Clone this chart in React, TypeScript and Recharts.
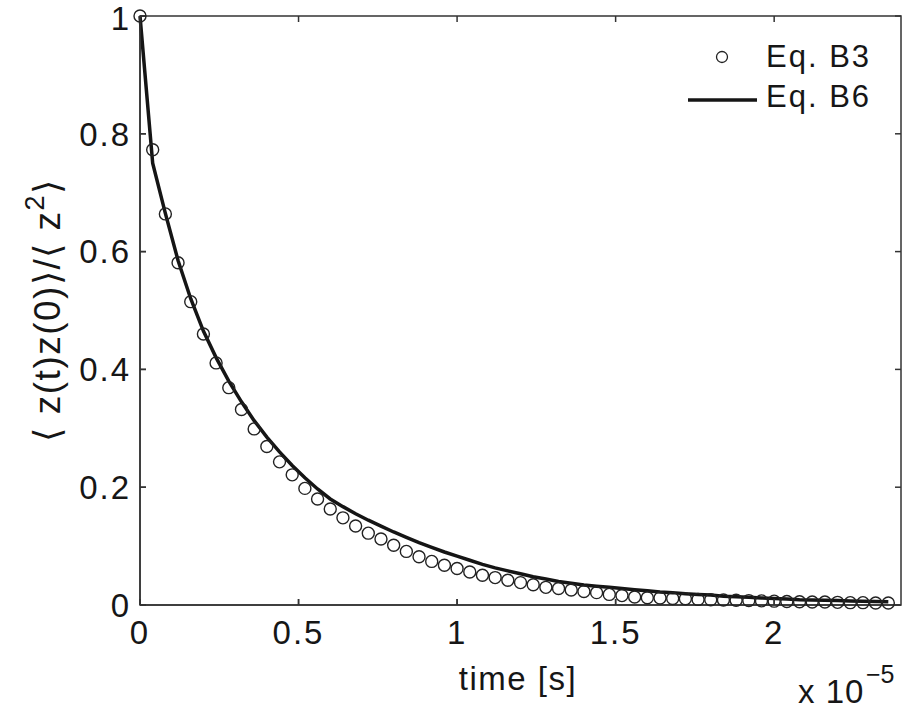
import React from "react";
import { ComposedChart, Line, XAxis, YAxis } from "recharts";

// time in units of 1e-5 s
const timeValues = [
  0, 0.04, 0.08, 0.12, 0.16, 0.2, 0.24, 0.28, 0.32, 0.36,
  0.4, 0.44, 0.48, 0.52, 0.56, 0.6, 0.64, 0.68, 0.72, 0.76,
  0.8, 0.84, 0.88, 0.92, 0.96, 1.0, 1.04, 1.08, 1.12, 1.16,
  1.2, 1.24, 1.28, 1.32, 1.36, 1.4, 1.44, 1.48, 1.52, 1.56,
  1.6, 1.64, 1.68, 1.72, 1.76, 1.8, 1.84, 1.88, 1.92, 1.96,
  2.0, 2.04, 2.08, 2.12, 2.16, 2.2, 2.24, 2.28, 2.32, 2.36,
];

// Eq. B3 (circles)
const eqB3Values = [
  1.0, 0.773, 0.664, 0.581, 0.515, 0.46, 0.411, 0.369, 0.332, 0.299,
  0.269, 0.243, 0.221, 0.198, 0.18, 0.163, 0.148, 0.134, 0.122, 0.112,
  0.1015, 0.091, 0.082, 0.074, 0.0675, 0.062, 0.056, 0.0505, 0.0465, 0.042,
  0.038, 0.0345, 0.03, 0.028, 0.0255, 0.023, 0.021, 0.018, 0.016, 0.0136,
  0.0124, 0.012, 0.011, 0.0105, 0.0095, 0.009, 0.0085, 0.008, 0.0075, 0.007,
  0.0065, 0.006, 0.0055, 0.005, 0.005, 0.0045, 0.004, 0.004, 0.0035, 0.0035,
];

// Eq. B6 (solid line)
const eqB6Values = [
  1.0, 0.75, 0.665, 0.585, 0.52, 0.465, 0.42, 0.38, 0.345, 0.313,
  0.285, 0.26, 0.237, 0.216, 0.197, 0.18, 0.167, 0.155, 0.144, 0.134,
  0.124, 0.115, 0.106, 0.098, 0.09, 0.083, 0.076, 0.069, 0.063, 0.058,
  0.053, 0.048, 0.044, 0.04, 0.037, 0.034, 0.032, 0.03, 0.028, 0.026,
  0.024, 0.022, 0.021, 0.019, 0.018, 0.017, 0.015, 0.014, 0.013, 0.012,
  0.011, 0.01, 0.009, 0.0085, 0.008, 0.0075, 0.007, 0.0065, 0.006, 0.0055,
];

const xTicks = [0, 0.5, 1, 1.5, 2];
const yTicks = [0, 0.2, 0.4, 0.6, 0.8, 1];
const xMax = 2.4;
const yMax = 1;

const data = timeValues.map((t, i) => ({ t, b3: eqB3Values[i], b6: eqB6Values[i] }));

const FONT = '"Liberation Sans", Arial, Helvetica, sans-serif';
const AXIS_COLOR = "#333333";
const TICK_LEN = 6;
const tickStyle = { fontSize: 33, fill: "#161616", fontFamily: FONT, letterSpacing: 2 };

// plot box (chart margins + axis sizes)
const BOX = { left: 140, right: 901, top: 16, bottom: 605 };
const px = (v: number) => BOX.left + (v / xMax) * (BOX.right - BOX.left);
const py = (v: number) => BOX.bottom - (v / yMax) * (BOX.bottom - BOX.top);

const fmt = (v: number) => String(v);

export default function App() {
  return (
    <div style={{ position: "absolute", left: 0, top: 0 }}>
      <ComposedChart
        width={908}
        height={715}
        data={data}
        margin={{ top: 16, right: 7, left: 0, bottom: 0 }}
      >
        <XAxis
          dataKey="t"
          type="number"
          domain={[0, xMax]}
          ticks={xTicks}
          tickFormatter={fmt}
          height={110}
          tickSize={-TICK_LEN}
          tickMargin={22}
          axisLine={{ stroke: AXIS_COLOR, strokeWidth: 1.5 }}
          tickLine={{ stroke: AXIS_COLOR, strokeWidth: 1.5 }}
          tick={tickStyle}
        />
        <YAxis
          type="number"
          domain={[0, yMax]}
          ticks={yTicks}
          tickFormatter={fmt}
          width={140}
          tickSize={-TICK_LEN}
          tickMargin={15}
          axisLine={{ stroke: AXIS_COLOR, strokeWidth: 1.5 }}
          tickLine={{ stroke: AXIS_COLOR, strokeWidth: 1.5 }}
          tick={tickStyle}
        />
        <Line
          dataKey="b3"
          stroke="none"
          isAnimationActive={false}
          dot={{ r: 6, fill: "none", stroke: "#222", strokeWidth: 1.4 }}
          activeDot={false}
        />
        <Line
          dataKey="b6"
          type="linear"
          stroke="#151515"
          strokeWidth={3.5}
          dot={false}
          activeDot={false}
          isAnimationActive={false}
        />
        {/* box frame with inward ticks on all four sides */}
        <g stroke={AXIS_COLOR} strokeWidth={1.5} fill="none">
          <rect x={BOX.left} y={BOX.top} width={BOX.right - BOX.left} height={BOX.bottom - BOX.top} />
          {xTicks.map((v) => (
            <g key={"xt" + v}>
              <line x1={px(v)} x2={px(v)} y1={BOX.top} y2={BOX.top + TICK_LEN} />
              <line x1={px(v)} x2={px(v)} y1={BOX.bottom} y2={BOX.bottom - TICK_LEN} />
            </g>
          ))}
          {yTicks.map((v) => (
            <g key={"yt" + v}>
              <line x1={BOX.right} x2={BOX.right - TICK_LEN} y1={py(v)} y2={py(v)} />
              <line x1={BOX.left} x2={BOX.left + TICK_LEN} y1={py(v)} y2={py(v)} />
            </g>
          ))}
        </g>
        <g fontFamily={FONT} fill="#161616">
          <text
            x={60}
            y={310}
            fontSize={37}
            textAnchor="middle"
            transform="rotate(-90, 60, 310)"
            letterSpacing={1.5}
          >
            {"\u27E8 z(t)z(0)\u27E9/\u27E8 z"}
            <tspan dy={-16} fontSize={27}>2</tspan>
            <tspan dy={16}>{"\u27E9"}</tspan>
          </text>
          <text x={518} y={690} fontSize={33} textAnchor="middle" letterSpacing={1.5}>
            time [s]
          </text>
          <text x={798} y={703} fontSize={33} letterSpacing={1}>
            x 10
          </text>
          <text x={866} y={683} fontSize={25}>
            {"\u22125"}
          </text>
          <circle cx={722} cy={57} r={5.5} fill="none" stroke="#222" strokeWidth={1.3} />
          <text x={766} y={67} fontSize={31} letterSpacing={2}>
            Eq. B3
          </text>
          <line x1={688} y1={100} x2={757} y2={100} stroke="#151515" strokeWidth={3.5} />
          <text x={766} y={107} fontSize={31} letterSpacing={2}>
            Eq. B6
          </text>
        </g>
      </ComposedChart>
    </div>
  );
}
